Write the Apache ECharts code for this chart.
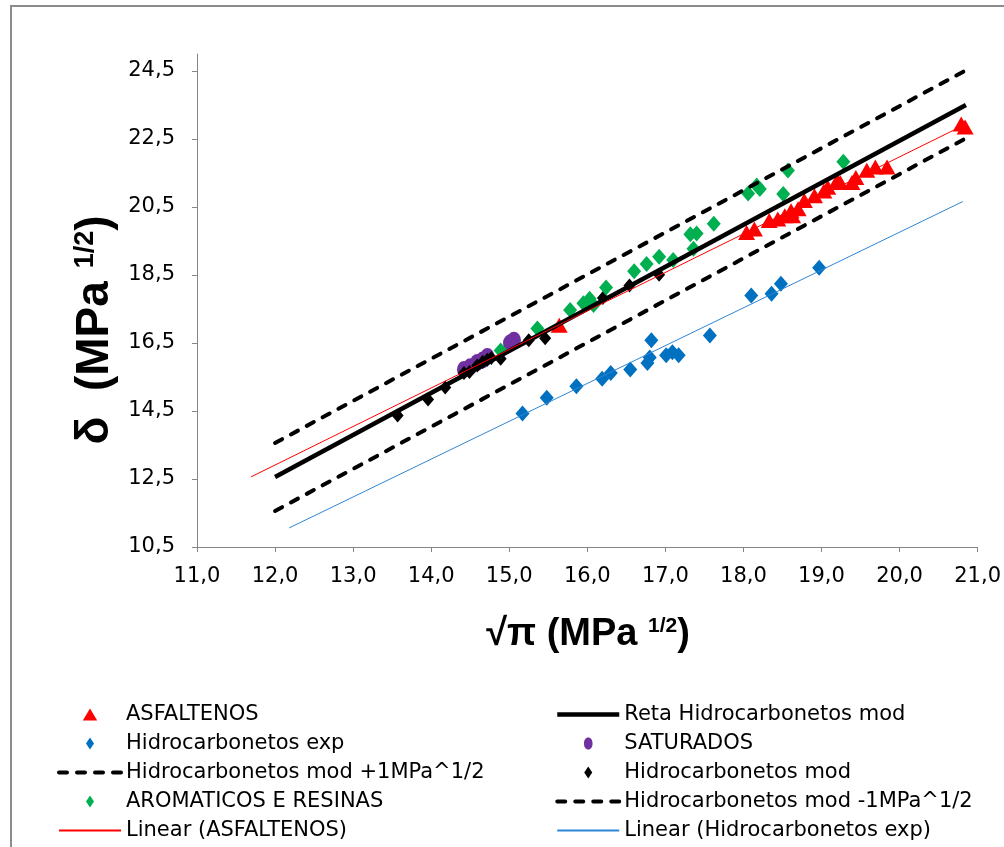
<!DOCTYPE html>
<html><head><meta charset="utf-8">
<script src="https://cdn.jsdelivr.net/npm/echarts@6/dist/echarts.min.js"></script>
<style>html,body{margin:0;padding:0;background:#fff}#c{width:1004px;height:847px}</style>
</head><body><div id="c"></div>
<script>
// ---- data ----
const xTicks = [11, 12, 13, 14, 15, 16, 17, 18, 19, 20, 21];
const yTicks = [10.5, 12.5, 14.5, 16.5, 18.5, 20.5, 22.5, 24.5];

const asfaltenos = [
  [15.64,17.02],[18.04,19.75],[18.14,19.85],[18.33,20.10],[18.44,20.15],[18.53,20.24],
  [18.61,20.39],[18.63,20.24],[18.70,20.45],[18.78,20.69],[18.91,20.83],[19.03,20.97],
  [19.08,21.08],[19.20,21.27],[19.24,21.22],[19.39,21.22],[19.44,21.37],[19.58,21.58],
  [19.69,21.68],[19.84,21.68],[20.79,22.94],[20.84,22.85]
];
const hidroExp = [
  [15.17,14.43],[15.48,14.89],[15.86,15.23],[16.19,15.45],[16.30,15.62],[16.55,15.72],
  [16.77,15.91],[16.80,16.07],[16.82,16.58],[17.01,16.14],[17.09,16.23],[17.17,16.14],
  [17.57,16.72],[18.10,17.90],[18.36,17.95],[18.48,18.24],[18.97,18.71]
];
const saturados = [
  [14.42,15.72],[14.50,15.80],[14.59,15.93],[14.66,16.00],[14.72,16.10],[15.01,16.50],[15.06,16.58]
];
const hidroMod = [
  [13.57,14.37],[13.96,14.84],[14.18,15.19],[14.42,15.62],[14.49,15.65],[14.59,15.84],
  [14.66,15.94],[14.72,16.01],[14.77,16.06],[14.89,16.04],[15.25,16.58],[15.46,16.64],
  [16.20,17.82],[16.54,18.19],[16.92,18.51]
];
const aromaticos = [
  [14.89,16.28],[15.36,16.93],[15.78,17.47],[15.95,17.67],[16.03,17.80],[16.08,17.62],
  [16.24,18.13],[16.60,18.61],[16.76,18.82],[16.92,19.04],[17.10,18.94],[17.32,19.70],
  [17.40,19.72],[17.36,19.27],[17.62,20.01],[18.06,20.90],[18.17,21.13],[18.21,21.03],
  [18.51,20.88],[18.57,21.57],[19.28,21.83]
];
const retaMod = [[12.0,12.56],[20.85,23.50]];
const modPlus1 = [[12.0,13.56],[20.85,24.52]];
const modMinus1 = [[12.0,11.56],[20.85,22.52]];
const linAsf = [[11.69,12.56],[20.80,22.88]];
const linHidroExp = [[12.18,11.06],[20.81,20.66]];

const FONT = 'DejaVu Sans';
const fmt = v => v.toFixed(1).replace('.', ',');
const axisGray = '#868686';
const dash = [8, 10];
const NOFILL = 'rgba(0,0,0,0)';

const triIcon = 'path://M0,10L6,0L12,10Z';
const diaIcon = 'path://M4,0L8,6L4,12L0,6Z';
const cirIcon = 'path://M5,0C8,0 10,3 10,7C10,11 8,14 5,14C2,14 0,11 0,7C0,3 2,0 5,0Z';

const legendCommon = {
  orient: 'vertical', top: 704, padding: 0, itemWidth: 62, itemHeight: 12, itemGap: 8,
  selectedMode: false, textStyle: {fontSize: 21, fontFamily: FONT, color: '#000'}
};

const chart = echarts.init(document.getElementById('c'), null, {renderer: 'canvas'});
chart.setOption({
  animation: false,
  backgroundColor: '#fff',
  grid: {left: 197, right: 19, top: 54, bottom: 300, containLabel: false},
  xAxis: {
    type: 'value', min: xTicks[0], max: xTicks[xTicks.length - 1], interval: 1,
    axisLine: {lineStyle: {color: axisGray, width: 1}},
    axisTick: {length: 5, lineStyle: {color: axisGray}},
    splitLine: {show: false},
    axisLabel: {formatter: fmt, fontSize: 21, fontFamily: FONT, color: '#000', margin: 19}
  },
  yAxis: {
    type: 'value', min: 10.5, max: 25,
    axisLine: {show: true, lineStyle: {color: axisGray, width: 1}},
    axisTick: {show: true, length: 5, lineStyle: {color: axisGray}, customValues: yTicks},
    splitLine: {show: false},
    axisLabel: {customValues: yTicks, formatter: fmt, fontSize: 21, fontFamily: FONT, color: '#000', margin: 22}
  },
  legend: [
    Object.assign({}, legendCommon, {
      left: 57,
      data: [
        {name: 'ASFALTENOS', icon: triIcon},
        {name: 'Hidrocarbonetos exp', icon: diaIcon},
        {name: 'Hidrocarbonetos mod +1MPa^1/2', lineStyle: {width: 4}},
        {name: 'AROMATICOS E RESINAS', icon: diaIcon},
        'Linear (ASFALTENOS)'
      ]
    }),
    Object.assign({}, legendCommon, {
      left: 555,
      data: [
        {name: 'Reta Hidrocarbonetos mod', lineStyle: {width: 4.5}},
        {name: 'SATURADOS', icon: cirIcon},
        {name: 'Hidrocarbonetos mod', icon: diaIcon},
        {name: 'Hidrocarbonetos mod -1MPa^1/2', lineStyle: {width: 4}},
        'Linear (Hidrocarbonetos exp)'
      ]
    })
  ],
  graphic: [
    {type: 'rect', silent: true, z: -1, shape: {x: 11, y: 6, width: 1200, height: 1000},
     style: {fill: 'none', stroke: '#8c8c8c', lineWidth: 2}},
    {type: 'text', x: 588, y: 635, style: {
      text: '{m|√π (MPa }{s|1/2}{m|)}', align: 'center', verticalAlign: 'middle',
      rich: {
        m: {fontSize: 38, fontWeight: 'bold', fontFamily: 'Liberation Sans', fill: '#000', verticalAlign: 'bottom'},
        s: {fontSize: 21, fontWeight: 'bold', fontFamily: 'Liberation Sans', fill: '#000', verticalAlign: 'top'}
      }}},
    {type: 'text', x: 95, y: 330, rotation: Math.PI / 2, style: {
      text: '{m|δ  (MPa }{s|1/2}{m|)}', align: 'center', verticalAlign: 'middle',
      rich: {
        m: {fontSize: 46, fontWeight: 'bold', fontFamily: 'Liberation Sans', fill: '#000', verticalAlign: 'bottom'},
        s: {fontSize: 27, fontWeight: 'bold', fontFamily: 'Liberation Sans', fill: '#000', verticalAlign: 'top'}
      }}}
  ],
  series: [
    {name: 'ASFALTENOS', type: 'scatter', data: asfaltenos, symbol: 'triangle', symbolSize: [17, 15],
     itemStyle: {color: '#ff0000', opacity: 1}},
    {name: 'Reta Hidrocarbonetos mod', type: 'line', data: retaMod, symbol: 'none',
     lineStyle: {color: '#000', width: 4.5}, itemStyle: {color: NOFILL}},
    {name: 'Hidrocarbonetos exp', type: 'scatter', data: hidroExp, symbol: 'diamond', symbolSize: [14, 16],
     itemStyle: {color: '#0070c0', opacity: 1}},
    {name: 'SATURADOS', type: 'scatter', data: saturados, symbol: 'circle', symbolSize: [14, 17],
     itemStyle: {color: '#7030a0', opacity: 1}},
    {name: 'Hidrocarbonetos mod +1MPa^1/2', type: 'line', data: modPlus1, symbol: 'none',
     lineStyle: {color: '#000', width: 4, type: dash, cap: 'round'}, itemStyle: {color: NOFILL}},
    {name: 'Hidrocarbonetos mod', type: 'scatter', data: hidroMod, symbol: 'diamond', symbolSize: [12, 14],
     itemStyle: {color: '#000', opacity: 1}},
    {name: 'AROMATICOS E RESINAS', type: 'scatter', data: aromaticos, symbol: 'diamond', symbolSize: [14, 16],
     itemStyle: {color: '#00b050', opacity: 1}},
    {name: 'Hidrocarbonetos mod -1MPa^1/2', type: 'line', data: modMinus1, symbol: 'none',
     lineStyle: {color: '#000', width: 4, type: dash, cap: 'round'}, itemStyle: {color: NOFILL}},
    {name: 'Linear (ASFALTENOS)', type: 'line', data: linAsf, symbol: 'none',
     lineStyle: {color: '#ff0000', width: 1}, itemStyle: {color: NOFILL}},
    {name: 'Linear (Hidrocarbonetos exp)', type: 'line', data: linHidroExp, symbol: 'none',
     lineStyle: {color: '#2f86d4', width: 1}, itemStyle: {color: NOFILL}}
  ]
});
</script>
</body></html>
